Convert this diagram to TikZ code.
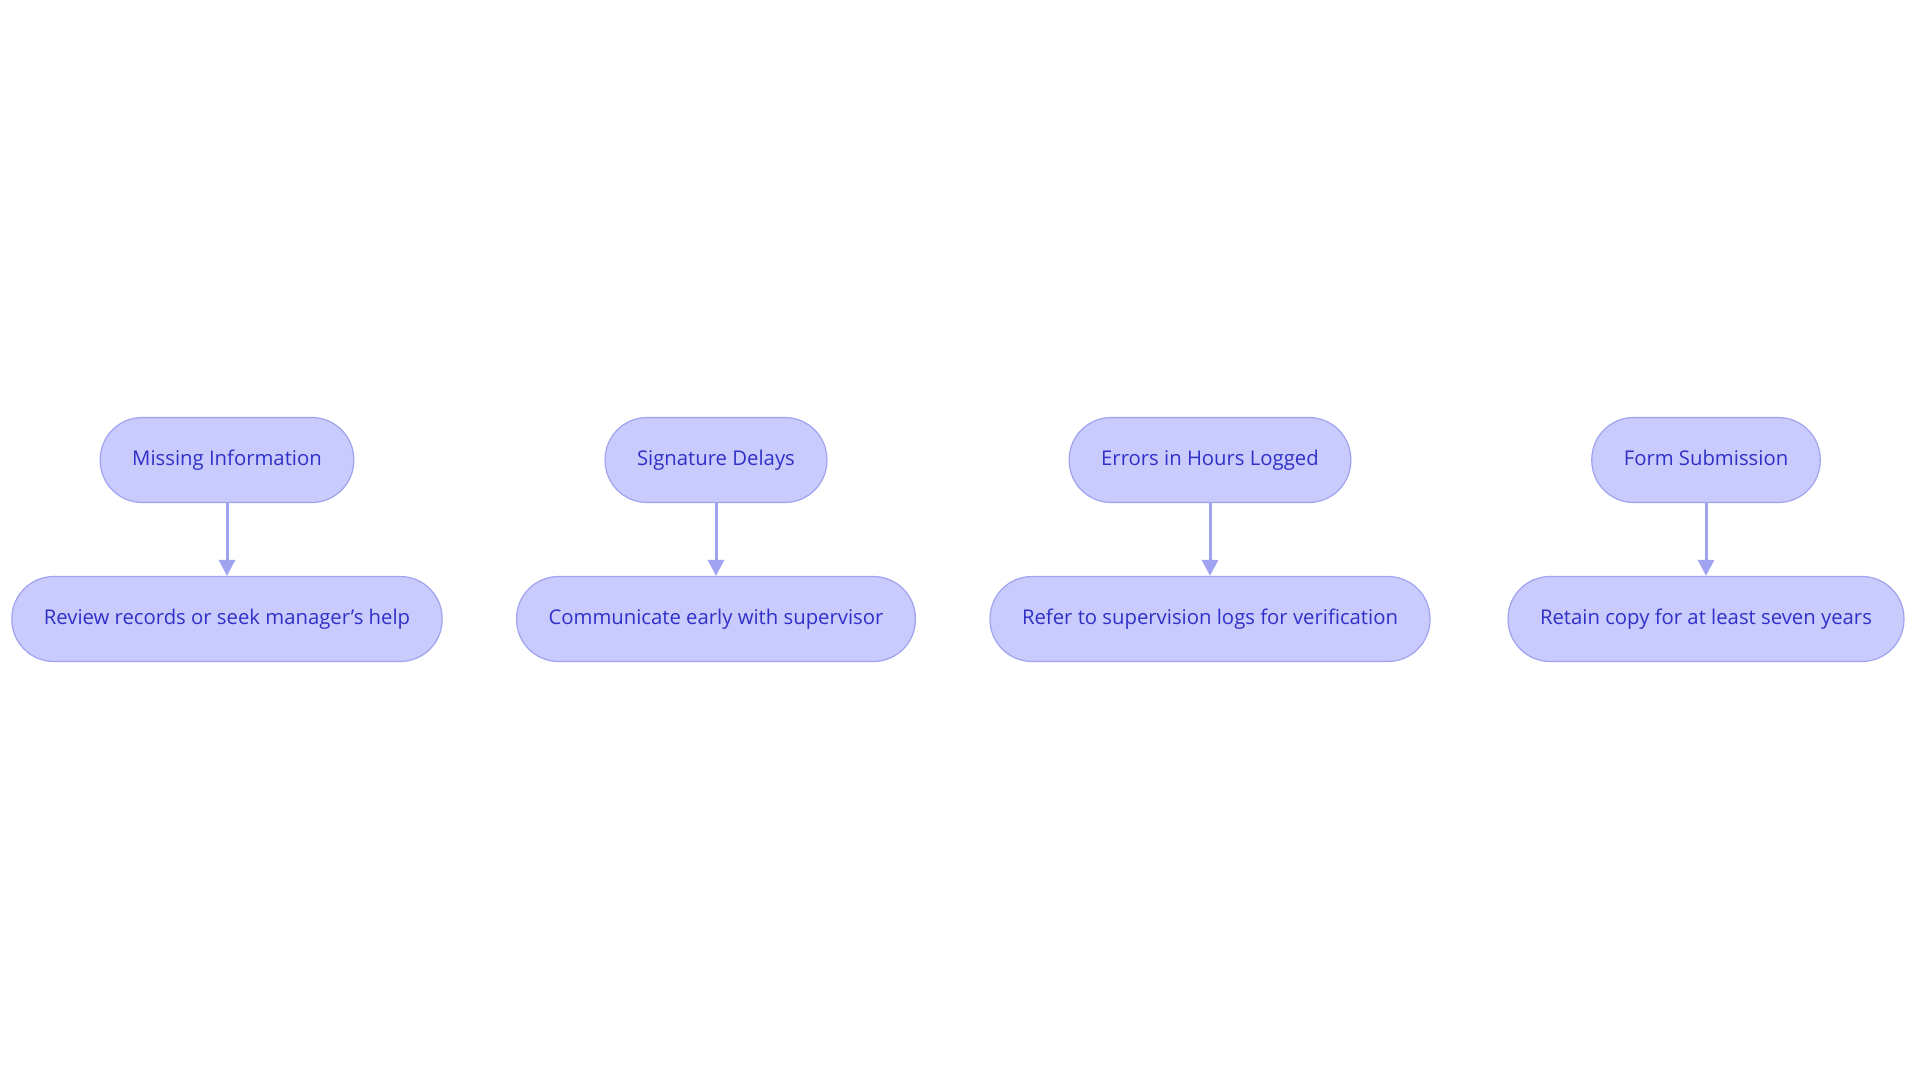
\documentclass[tikz,border=0pt]{standalone}
\usepackage{fontspec}
\setmainfont{Open Sans}
\usetikzlibrary{arrows.meta}
\definecolor{pillfill}{HTML}{C9CBFC}
\definecolor{pilldraw}{HTML}{9FA3F0}
\definecolor{pilltext}{HTML}{3030C8}
\tikzset{
  pill/.style={draw=pilldraw, fill=pillfill, text=pilltext, line width=1.2pt,
    rounded corners=42pt, minimum height=85pt, inner xsep=32pt,
    text height=15pt, text depth=4pt,
    font=\fontsize{20.3}{24}\selectfont},
  link/.style={draw=pilldraw, line width=3pt, -{Triangle[length=16pt,width=16pt]}}
}
\begin{document}
\begin{tikzpicture}[x=1pt, y=-1pt]
			%%%%% START %%%%%
			\useasboundingbox (0, 0) rectangle (1920, 1083);
			
			\node[pill] (missing) at (227, 460) {Missing Information};
			\node[pill] (review) at (227, 619) {Review records or seek manager's help};
			\draw[link] (missing) -- (review);
			
			\node[pill] (signature) at (716, 460) {Signature Delays};
			\node[pill] (early) at (716, 619) {Communicate early with supervisor};
			\draw[link] (signature) -- (early);
			
			\node[pill] (errors) at (1210, 460) {Errors in Hours Logged};
			\node[pill] (logs) at (1210, 619) {Refer to supervision logs for verification};
			\draw[link] (errors) -- (logs);
			
			\node[pill] (submission) at (1706, 460) {Form Submission};
			\node[pill] (retain) at (1706, 619) {Retain copy for at least seven years};
			\draw[link] (submission) -- (retain);
			
			%%%%% END %%%%%
\end{tikzpicture}
\end{document}
